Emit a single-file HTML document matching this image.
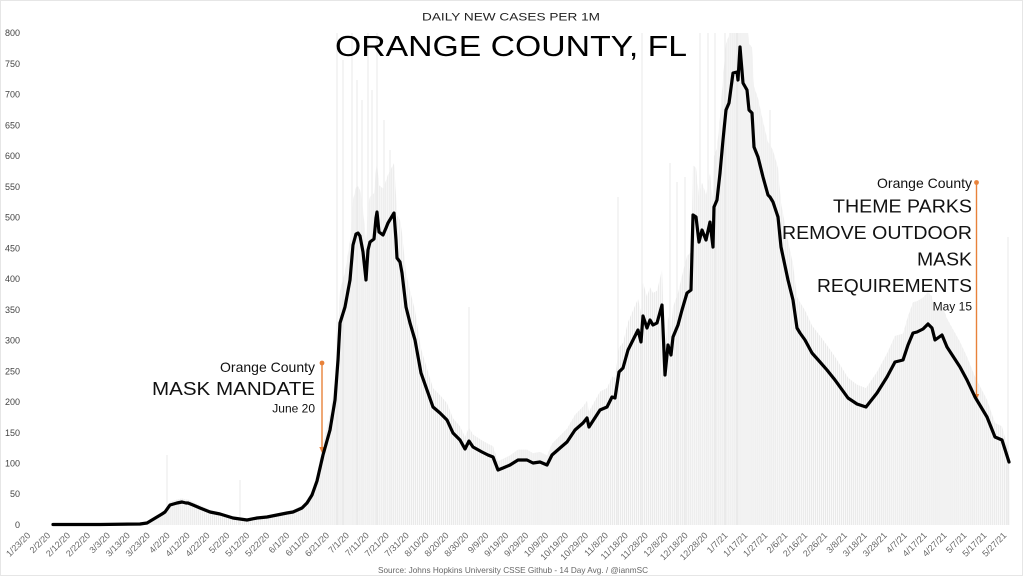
<!DOCTYPE html>
<html>
<head>
<meta charset="utf-8">
<style>
html,body{margin:0;padding:0;background:#fff;}
svg{display:block;}
text{font-family:"Liberation Sans",sans-serif;}
</style>
</head>
<body>
<svg width="1024" height="578" viewBox="0 0 1024 578" xmlns="http://www.w3.org/2000/svg">
<defs>
<pattern id="st" patternUnits="userSpaceOnUse" x="29" y="0" width="1.99" height="10">
<rect x="0" y="0" width="1.2" height="10" fill="#e9e9e9"/>
</pattern>
<clipPath id="pa"><rect x="29" y="33" width="982" height="492"/></clipPath>
</defs>
<rect x="0" y="0" width="1024" height="578" fill="#fff"/>
<rect x="0.5" y="0.5" width="1022" height="575" fill="none" stroke="#e6e6e6" stroke-width="1"/>

<!-- bars -->
<g clip-path="url(#pa)">
<path transform="matrix(1,0,0,1.16,0,-84)" fill="url(#st)" d="M53,525 L53,524.5 L100,524.5 L140,524 L147,523 L152,520 L157,517 L162,514 L165,512 L170,505 L177,503 L182,502 L186,503 L188,503 L193,505 L200,508 L210,512 L220,514 L233,518 L247,520 L257,518 L267,517 L277,515 L287,513 L293,512 L302,508 L307,503 L312,495 L317,481 L323,455 L330,430 L335,400 L338,360 L340,323 L345,307 L350,280 L353,245 L356,234 L358,233 L360,236 L363,252 L366,280 L368,250 L370,242 L374,239 L376,218 L377,212 L379,232 L383,235 L386,228 L388,223 L394,213 L396,240 L397,258 L400,262 L402,273 L406,307 L410,323 L415,340 L421,373 L427,390 L433,407 L440,413 L447,420 L453,433 L460,440 L465,449 L469,441 L473,447 L482,452 L488,455 L493,457 L498,470 L503,468 L510,465 L518,460 L527,460 L533,463 L540,462 L547,465 L552,455 L560,448 L567,442 L575,430 L583,423 L587,418 L589,427 L600,410 L607,407 L612,397 L615,398 L619,372 L623,368 L628,350 L633,340 L638,330 L641,342 L643,316 L647,328 L650,320 L653,325 L657,323 L662,305 L665,375 L668,345 L671,355 L673,337 L678,325 L682,310 L687,293 L691,290 L693,215 L696,217 L699,242 L702,230 L706,240 L710,222 L713,247 L714,207 L717,200 L720,173 L723,140 L726,110 L729,103 L733,73 L737,72 L738,80 L740,47 L743,83 L747,90 L749,110 L752,113 L754,147 L758,157 L763,177 L768,195 L770,197 L773,202 L775,208 L778,217 L781,247 L788,280 L793,300 L797,328 L800,333 L805,340 L812,353 L820,362 L827,370 L835,380 L848,398 L857,404 L866,407 L877,393 L887,377 L895,362 L903,360 L908,345 L913,333 L917,332 L923,329 L928,324 L932,328 L935,340 L942,335 L947,347 L960,367 L967,380 L975,397 L987,417 L995,437 L1002,440 L1009,462 L1010,525 Z"/>
<g stroke="#ebebeb" stroke-width="1.1">
<line x1="337" y1="33" x2="337" y2="525"/>
<line x1="343" y1="60" x2="343" y2="525"/>
<line x1="352" y1="33" x2="352" y2="525"/>
<line x1="357" y1="80" x2="357" y2="525"/>
<line x1="362" y1="100" x2="362" y2="525"/>
<line x1="368" y1="33" x2="368" y2="525"/>
<line x1="372" y1="90" x2="372" y2="525"/>
<line x1="377" y1="33" x2="377" y2="525"/>
<line x1="384" y1="120" x2="384" y2="525"/>
<line x1="390" y1="150" x2="390" y2="525"/>
<line x1="469" y1="307" x2="469" y2="525"/>
<line x1="618" y1="197" x2="618" y2="525"/>
<line x1="642" y1="33" x2="642" y2="525"/>
<line x1="670" y1="163" x2="670" y2="525"/>
<line x1="677" y1="182" x2="677" y2="525"/>
<line x1="685" y1="177" x2="685" y2="525"/>
<line x1="700" y1="33" x2="700" y2="525"/>
<line x1="708" y1="33" x2="708" y2="525"/>
<line x1="715" y1="33" x2="715" y2="525"/>
<line x1="725" y1="33" x2="725" y2="525"/>
<line x1="737" y1="33" x2="737" y2="525"/>
<line x1="770" y1="110" x2="770" y2="525"/>
<line x1="1008" y1="237" x2="1008" y2="525"/>
<line x1="167" y1="455" x2="167" y2="525"/>
<line x1="240" y1="480" x2="240" y2="525"/>
</g>
</g>

<!-- y axis labels -->
<g font-size="9" fill="#444" text-anchor="end">
<text x="20" y="528">0</text>
<text x="20" y="497">50</text>
<text x="20" y="466.5">100</text>
<text x="20" y="435.8">150</text>
<text x="20" y="405">200</text>
<text x="20" y="374.3">250</text>
<text x="20" y="343.6">300</text>
<text x="20" y="312.9">350</text>
<text x="20" y="282.1">400</text>
<text x="20" y="251.4">450</text>
<text x="20" y="220.6">500</text>
<text x="20" y="189.9">550</text>
<text x="20" y="159.2">600</text>
<text x="20" y="128.4">650</text>
<text x="20" y="97.7">700</text>
<text x="20" y="67">750</text>
<text x="20" y="36.2">800</text>
</g>

<!-- x axis labels -->
<g font-size="9" fill="#666" text-anchor="end">
<text transform="translate(31,536) rotate(-45)">1/23/20</text>
<text transform="translate(50.9,536) rotate(-45)">2/2/20</text>
<text transform="translate(70.8,536) rotate(-45)">2/12/20</text>
<text transform="translate(90.8,536) rotate(-45)">2/22/20</text>
<text transform="translate(110.7,536) rotate(-45)">3/3/20</text>
<text transform="translate(130.6,536) rotate(-45)">3/13/20</text>
<text transform="translate(150.5,536) rotate(-45)">3/23/20</text>
<text transform="translate(170.4,536) rotate(-45)">4/2/20</text>
<text transform="translate(190.4,536) rotate(-45)">4/12/20</text>
<text transform="translate(210.3,536) rotate(-45)">4/22/20</text>
<text transform="translate(230.2,536) rotate(-45)">5/2/20</text>
<text transform="translate(250.1,536) rotate(-45)">5/12/20</text>
<text transform="translate(270,536) rotate(-45)">5/22/20</text>
<text transform="translate(290,536) rotate(-45)">6/1/20</text>
<text transform="translate(309.9,536) rotate(-45)">6/11/20</text>
<text transform="translate(329.8,536) rotate(-45)">6/21/20</text>
<text transform="translate(349.7,536) rotate(-45)">7/1/20</text>
<text transform="translate(369.6,536) rotate(-45)">7/11/20</text>
<text transform="translate(389.6,536) rotate(-45)">7/21/20</text>
<text transform="translate(409.5,536) rotate(-45)">7/31/20</text>
<text transform="translate(429.4,536) rotate(-45)">8/10/20</text>
<text transform="translate(449.3,536) rotate(-45)">8/20/20</text>
<text transform="translate(469.2,536) rotate(-45)">8/30/20</text>
<text transform="translate(489.2,536) rotate(-45)">9/9/20</text>
<text transform="translate(509.1,536) rotate(-45)">9/19/20</text>
<text transform="translate(529,536) rotate(-45)">9/29/20</text>
<text transform="translate(548.9,536) rotate(-45)">10/9/20</text>
<text transform="translate(568.8,536) rotate(-45)">10/19/20</text>
<text transform="translate(588.8,536) rotate(-45)">10/29/20</text>
<text transform="translate(608.7,536) rotate(-45)">11/8/20</text>
<text transform="translate(628.6,536) rotate(-45)">11/18/20</text>
<text transform="translate(648.5,536) rotate(-45)">11/28/20</text>
<text transform="translate(668.4,536) rotate(-45)">12/8/20</text>
<text transform="translate(688.4,536) rotate(-45)">12/18/20</text>
<text transform="translate(708.3,536) rotate(-45)">12/28/20</text>
<text transform="translate(728.2,536) rotate(-45)">1/7/21</text>
<text transform="translate(748.1,536) rotate(-45)">1/17/21</text>
<text transform="translate(768,536) rotate(-45)">1/27/21</text>
<text transform="translate(788,536) rotate(-45)">2/6/21</text>
<text transform="translate(807.9,536) rotate(-45)">2/16/21</text>
<text transform="translate(827.8,536) rotate(-45)">2/26/21</text>
<text transform="translate(847.7,536) rotate(-45)">3/8/21</text>
<text transform="translate(867.6,536) rotate(-45)">3/18/21</text>
<text transform="translate(887.6,536) rotate(-45)">3/28/21</text>
<text transform="translate(907.5,536) rotate(-45)">4/7/21</text>
<text transform="translate(927.4,536) rotate(-45)">4/17/21</text>
<text transform="translate(947.3,536) rotate(-45)">4/27/21</text>
<text transform="translate(967.2,536) rotate(-45)">5/7/21</text>
<text transform="translate(987.2,536) rotate(-45)">5/17/21</text>
<text transform="translate(1007.1,536) rotate(-45)">5/27/21</text>
</g>

<!-- titles -->
<text x="422" y="20.7" font-size="11" fill="#222" textLength="178" lengthAdjust="spacingAndGlyphs">DAILY NEW CASES PER 1M</text>
<text x="335" y="56" font-size="29" fill="#000" textLength="352" lengthAdjust="spacingAndGlyphs">ORANGE COUNTY, FL</text>
<text x="378" y="573" font-size="8.5" fill="#666" textLength="270" lengthAdjust="spacingAndGlyphs">Source: Johns Hopkins University CSSE Github - 14 Day Avg. / @ianmSC</text>

<!-- annotation arrows -->
<g stroke="#e8823a" stroke-width="1.4" fill="#e8823a">
<line x1="322" y1="363" x2="322" y2="449"/>
<circle cx="322" cy="363" r="2.4" stroke="none"/>
<path d="M319.3,447 L324.7,447 L322,453 Z" stroke="none"/>
<line x1="976.5" y1="182.5" x2="976.5" y2="396"/>
<circle cx="976.5" cy="182.5" r="2.4" stroke="none"/>
<path d="M973.8,394 L979.2,394 L976.5,400 Z" stroke="none"/>
</g>

<!-- curve -->
<path fill="none" stroke="#000" stroke-width="3.2" stroke-linejoin="round" stroke-linecap="round" d="M53,524.5 L100,524.5 L140,524 L147,523 L152,520 L157,517 L162,514 L165,512 L170,505 L177,503 L182,502 L186,503 L188,503 L193,505 L200,508 L210,512 L220,514 L233,518 L247,520 L257,518 L267,517 L277,515 L287,513 L293,512 L302,508 L307,503 L312,495 L317,481 L323,455 L330,430 L335,400 L338,360 L340,323 L345,307 L350,280 L353,245 L356,234 L358,233 L360,236 L363,252 L366,280 L368,250 L370,242 L374,239 L376,218 L377,212 L379,232 L383,235 L386,228 L388,223 L394,213 L396,240 L397,258 L400,262 L402,273 L406,307 L410,323 L415,340 L421,373 L427,390 L433,407 L440,413 L447,420 L453,433 L460,440 L465,449 L469,441 L473,447 L482,452 L488,455 L493,457 L498,470 L503,468 L510,465 L518,460 L527,460 L533,463 L540,462 L547,465 L552,455 L560,448 L567,442 L575,430 L583,423 L587,418 L589,427 L600,410 L607,407 L612,397 L615,398 L619,372 L623,368 L628,350 L633,340 L638,330 L641,342 L643,316 L647,328 L650,320 L653,325 L657,323 L662,305 L665,375 L668,345 L671,355 L673,337 L678,325 L682,310 L687,293 L691,290 L693,215 L696,217 L699,242 L702,230 L706,240 L710,222 L713,247 L714,207 L717,200 L720,173 L723,140 L726,110 L729,103 L733,73 L737,72 L738,80 L740,47 L743,83 L747,90 L749,110 L752,113 L754,147 L758,157 L763,177 L768,195 L770,197 L773,202 L775,208 L778,217 L781,247 L788,280 L793,300 L797,328 L800,333 L805,340 L812,353 L820,362 L827,370 L835,380 L848,398 L857,404 L866,407 L877,393 L887,377 L895,362 L903,360 L908,345 L913,333 L917,332 L923,329 L928,324 L932,328 L935,340 L942,335 L947,347 L960,367 L967,380 L975,397 L987,417 L995,437 L1002,440 L1009,462"/>

<!-- annotation text -->
<g fill="#111" text-anchor="end">
<text x="315" y="372" font-size="14">Orange County</text>
<text x="315" y="395" font-size="18.5" textLength="163" lengthAdjust="spacingAndGlyphs">MASK MANDATE</text>
<text x="315" y="412.5" font-size="12">June 20</text>

<text x="972" y="188" font-size="14">Orange County</text>
<text x="972" y="212.5" font-size="18.5" textLength="139" lengthAdjust="spacingAndGlyphs">THEME PARKS</text>
<text x="972" y="239" font-size="18.5" textLength="190" lengthAdjust="spacingAndGlyphs">REMOVE OUTDOOR</text>
<text x="972" y="265.5" font-size="18.5" textLength="55" lengthAdjust="spacingAndGlyphs">MASK</text>
<text x="972" y="292" font-size="18.5" textLength="155" lengthAdjust="spacingAndGlyphs">REQUIREMENTS</text>
<text x="972" y="310.7" font-size="12">May 15</text>
</g>
</svg>
</body>
</html>
